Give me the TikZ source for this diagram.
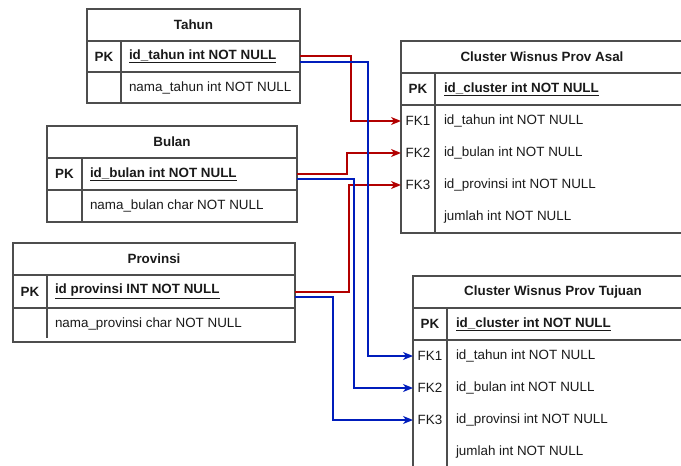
\documentclass[tikz,border=0pt]{standalone}
\usepackage{fontspec}
\setmainfont{Liberation Sans}
\usetikzlibrary{arrows.meta}
\definecolor{edgec}{HTML}{4D4D4D}
\definecolor{fkred}{HTML}{B20000}
\definecolor{fkblue}{HTML}{001DBC}
\definecolor{txt}{HTML}{1A1A1A}
\newcommand\fsz{\fontsize{13.4}{16}\selectfont}

\begin{document}
\begin{tikzpicture}[x=1pt,y=-1pt,
  every node/.style={font=\fsz, text=txt, inner sep=0pt, outer sep=0pt},
  cellbox/.style={draw=edgec, line width=1.3pt, anchor=north west},
  slot/.style={anchor=north west},
  hdr/.style={font=\fsz\bfseries},
  keytxt/.style={anchor=center},
  fldtxt/.style={anchor=west},
  sep/.style={draw=edgec, line width=1.3pt},
  link/.style={line width=1.6pt, -{Stealth[length=10pt,width=8pt,inset=3pt]}},
  redlink/.style={link, draw=fkred},
  bluelink/.style={link, draw=fkblue}
]
\useasboundingbox (0,0) rectangle (681,466);
\clip (0,0) rectangle (681,466);

% ---------- Tahun ----------
\node[cellbox, hdr, minimum width=213, minimum height=32] (tahunH) at (87,9) {Tahun};
\node[cellbox, minimum width=213, minimum height=31] (tahunPK) at (87,41) {};
\node[cellbox, minimum width=213, minimum height=31] (tahunR1) at (87,72) {};
\draw[sep] (121,41) -- (121,103);
\node[keytxt, hdr] (tahunPKk) at (104,56.5) {PK};
\node[fldtxt, hdr] (tahunPKf) at (129,56.5) {\underline{id\_tahun int NOT NULL}};
\node[fldtxt] (tahunR1f) at (129,87.5) {nama\_tahun int NOT NULL};

% ---------- Bulan ----------
\node[cellbox, hdr, minimum width=250, minimum height=32] (bulanH) at (47,126) {Bulan};
\node[cellbox, minimum width=250, minimum height=32] (bulanPK) at (47,158) {};
\node[cellbox, minimum width=250, minimum height=32] (bulanR1) at (47,190) {};
\draw[sep] (82,158) -- (82,222);
\node[keytxt, hdr] (bulanPKk) at (64.5,174) {PK};
\node[fldtxt, hdr] (bulanPKf) at (90,174) {\underline{id\_bulan int NOT NULL}};
\node[fldtxt] (bulanR1f) at (90,206) {nama\_bulan char NOT NULL};

% ---------- Provinsi ----------
\node[cellbox, hdr, minimum width=282, minimum height=32] (provH) at (13,243) {Provinsi};
\node[cellbox, minimum width=282, minimum height=33] (provPK) at (13,275) {};
\node[cellbox, minimum width=282, minimum height=34] (provR1) at (13,308) {};
\draw[sep] (47,275) -- (47,338);
\node[keytxt, hdr] (provPKk) at (30,291.5) {PK};
\node[fldtxt, hdr] (provPKf) at (55,291.5) {\underline{id provinsi INT NOT NULL}};
\node[fldtxt] (provR1f) at (55,324) {nama\_provinsi char NOT NULL};

% ---------- Cluster Wisnus Prov Asal ----------
\node[cellbox, minimum width=282, minimum height=192] (asal) at (401,41) {};
\node[cellbox, hdr, minimum width=282, minimum height=32] (asalH) at (401,41) {Cluster Wisnus Prov Asal};
\node[cellbox, minimum width=282, minimum height=32] (asalPK) at (401,73) {};
\node[slot, minimum width=282, minimum height=32] (asalFK1) at (401,105) {};
\node[slot, minimum width=282, minimum height=32] (asalFK2) at (401,137) {};
\node[slot, minimum width=282, minimum height=32] (asalFK3) at (401,169) {};
\node[slot, minimum width=282, minimum height=32] (asalR4) at (401,201) {};
\draw[sep] (435,73) -- (435,233);
\node[keytxt, hdr] (asalPKk) at (418,89) {PK};
\node[fldtxt, hdr] (asalPKf) at (444,89) {\underline{id\_cluster int NOT NULL}};
\node[keytxt] (asalFK1k) at (418,121) {FK1};
\node[fldtxt] (asalFK1f) at (444,121) {id\_tahun int NOT NULL};
\node[keytxt] (asalFK2k) at (418,153) {FK2};
\node[fldtxt] (asalFK2f) at (444,153) {id\_bulan int NOT NULL};
\node[keytxt] (asalFK3k) at (418,185) {FK3};
\node[fldtxt] (asalFK3f) at (444,185) {id\_provinsi int NOT NULL};
\node[fldtxt] (asalR4f) at (444,217) {jumlah int NOT NULL};

% ---------- Cluster Wisnus Prov Tujuan ----------
\node[cellbox, minimum width=280, minimum height=192] (tuj) at (413,276) {};
\node[cellbox, hdr, minimum width=280, minimum height=32] (tujH) at (413,276) {Cluster Wisnus Prov Tujuan};
\node[cellbox, minimum width=280, minimum height=32] (tujPK) at (413,308) {};
\node[slot, minimum width=280, minimum height=32] (tujFK1) at (413,340) {};
\node[slot, minimum width=280, minimum height=32] (tujFK2) at (413,372) {};
\node[slot, minimum width=280, minimum height=32] (tujFK3) at (413,404) {};
\node[slot, minimum width=280, minimum height=32] (tujR4) at (413,436) {};
\draw[sep] (447,308) -- (447,468);
\node[keytxt, hdr] (tujPKk) at (430,324) {PK};
\node[fldtxt, hdr] (tujPKf) at (456,324) {\underline{id\_cluster int NOT NULL}};
\node[keytxt] (tujFK1k) at (430,356) {FK1};
\node[fldtxt] (tujFK1f) at (456,356) {id\_tahun int NOT NULL};
\node[keytxt] (tujFK2k) at (430,388) {FK2};
\node[fldtxt] (tujFK2f) at (456,388) {id\_bulan int NOT NULL};
\node[keytxt] (tujFK3k) at (430,420) {FK3};
\node[fldtxt] (tujFK3f) at (456,420) {id\_provinsi int NOT NULL};
\node[fldtxt] (tujR4f) at (456,452) {jumlah int NOT NULL};

% ---------- foreign keys into Prov Asal (red) ----------
\draw[redlink] ([yshift=0.5pt]tahunPK.east) -- ++(51,0) |- (asalFK1.west);
\draw[redlink] (bulanPK.east) -- ++(50,0) |- (asalFK2.west);
\draw[redlink] ([yshift=-0.5pt]provPK.east) -- ++(54,0) |- (asalFK3.west);

% ---------- foreign keys into Prov Tujuan (blue) ----------
\draw[bluelink] ([yshift=-5.5pt]tahunPK.east) -- ++(68,0) |- (tujFK1.west);
\draw[bluelink] ([yshift=-5pt]bulanPK.east) -- ++(57,0) |- (tujFK2.west);
\draw[bluelink] ([yshift=-5.5pt]provPK.east) -- ++(38,0) |- (tujFK3.west);
\end{tikzpicture}
\end{document}
